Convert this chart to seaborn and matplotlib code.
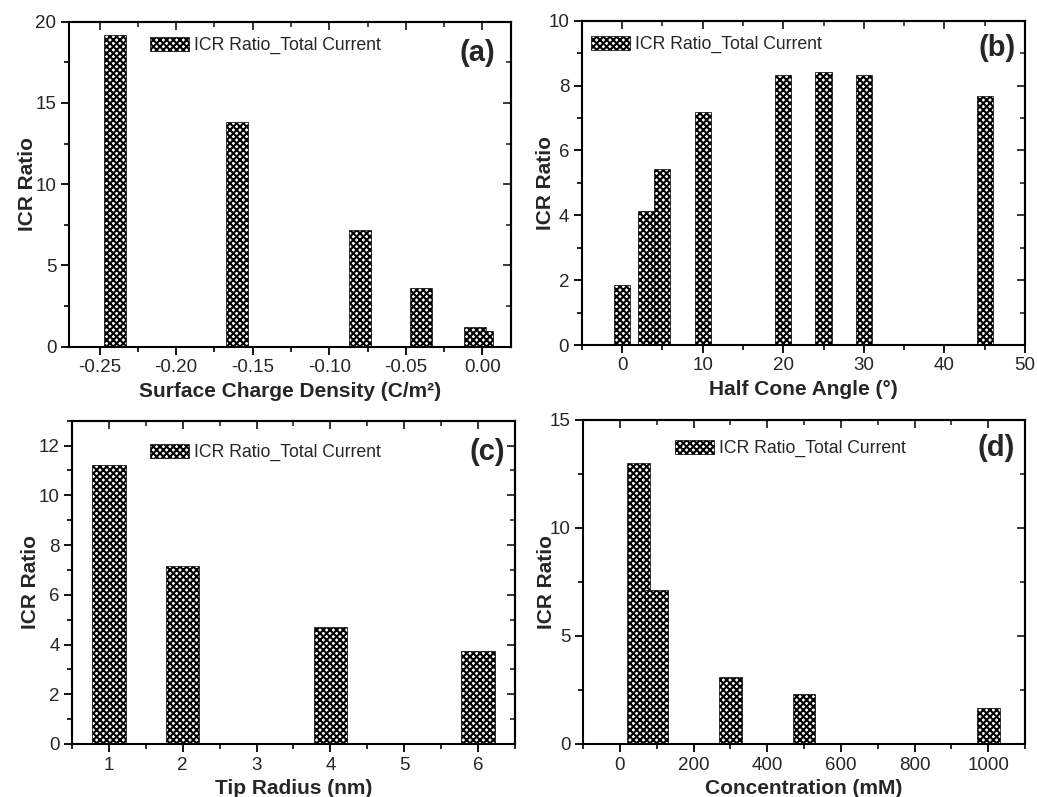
import matplotlib
matplotlib.use("Agg")
import matplotlib.pyplot as plt
import seaborn as sns
import pandas as pd
from matplotlib.ticker import MultipleLocator, FormatStrFormatter
from matplotlib.patches import Patch

# ---- data ----
charge = [-0.24, -0.16, -0.08, -0.04, -0.005, 0.0]
charge_icr = [19.2, 13.8, 7.2, 3.6, 1.2, 0.95]
angle = [0, 3, 5, 10, 20, 25, 30, 45]
angle_icr = [1.85, 4.14, 5.43, 7.19, 8.33, 8.43, 8.33, 7.68]
radius = [1, 2, 4, 6]
radius_icr = [11.2, 7.15, 4.7, 3.75]
conc = [50, 100, 300, 500, 1000]
conc_icr = [13.0, 7.13, 3.1, 2.31, 1.67]

legend_label = "ICR Ratio_Total Current"
panel_tags = ["(a)", "(b)", "(c)", "(d)"]
xlabels = ["Surface Charge Density (C/m\u00b2)", "Half Cone Angle (\u00b0)",
           "Tip Radius (nm)", "Concentration (mM)"]

sns.set_style("ticks")
plt.rcParams['font.family'] = ['Liberation Sans', 'DejaVu Sans']
plt.rcParams['hatch.linewidth'] = 1.5
HATCH = "xxxxx"

W, H = 1037, 797
fig = plt.figure(figsize=(W / 100, H / 100), dpi=100)

def px_axes(l, t, r, b):
    return fig.add_axes([l / W, 1 - b / H, (r - l) / W, (b - t) / H])

panels = [
    dict(x=charge, y=charge_icr, box=(69, 21.7, 511, 346.7), xlim=(-0.27, 0.0187),
         ylim=(0, 20), xmaj=0.05, xmin=0.025, ymaj=5, ymin=2.5, fmt="%.2f",
         barw=0.0144, leg=(0.183, 0.953), tag=(0.923, 0.905), ylab=-0.072),
    dict(x=angle, y=angle_icr, box=(581.7, 20.7, 1025, 345), xlim=(-5, 50),
         ylim=(0, 10), xmaj=10, xmin=5, ymaj=2, ymin=1, fmt="%d",
         barw=2.0, leg=(0.021, 0.953), tag=(0.937, 0.917), ylab=-0.060),
    dict(x=radius, y=radius_icr, box=(72, 420.7, 515, 744), xlim=(0.5, 6.5),
         ylim=(0, 13), xmaj=1, xmin=0.5, ymaj=2, ymin=1, fmt="%d",
         barw=0.45, leg=(0.176, 0.928), tag=(0.937, 0.903), ylab=-0.072),
    dict(x=conc, y=conc_icr, box=(583, 420, 1025, 744), xlim=(-100, 1100),
         ylim=(0, 15), xmaj=200, xmin=100, ymaj=5, ymin=2.5, fmt="%d",
         barw=62, leg=(0.208, 0.938), tag=(0.935, 0.913), ylab=-0.061),
]

for i, p in enumerate(panels):
    ax = px_axes(*p["box"])
    df = pd.DataFrame({"x": p["x"], "y": p["y"]})
    xs = sorted(set(p["x"]))
    native = min(b - a for a, b in zip(xs[:-1], xs[1:]))
    sns.barplot(data=df, x="x", y="y", native_scale=True, ax=ax,
                width=p["barw"] / native, color="white", saturation=1,
                errorbar=None, edgecolor="black", linewidth=0.5, hatch=HATCH)
    ax.set_xlim(*p["xlim"])
    ax.set_ylim(*p["ylim"])
    for s in ax.spines.values():
        s.set_visible(True)
        s.set_linewidth(1.5)
        s.set_color("black")
    ax.xaxis.set_major_locator(MultipleLocator(p["xmaj"]))
    ax.xaxis.set_minor_locator(MultipleLocator(p["xmin"]))
    ax.yaxis.set_major_locator(MultipleLocator(p["ymaj"]))
    ax.yaxis.set_minor_locator(MultipleLocator(p["ymin"]))
    ax.xaxis.set_major_formatter(FormatStrFormatter(p["fmt"]))
    ax.yaxis.set_major_formatter(FormatStrFormatter("%d"))
    ax.tick_params(which="major", direction="out", length=6, width=1.3,
                   labelsize=13.5, color="black", pad=3)
    ax.tick_params(which="minor", direction="out", length=3.5, width=1.2,
                   color="black")
    # mirrored inward ticks on top and right
    sx = ax.secondary_xaxis("top")
    sx.xaxis.set_major_locator(MultipleLocator(p["xmaj"]))
    sx.xaxis.set_minor_locator(MultipleLocator(p["xmin"]))
    sx.tick_params(which="major", direction="in", length=6, width=1.3, labeltop=False)
    sx.tick_params(which="minor", direction="in", length=3.5, width=1.2)
    sx.spines["top"].set_linewidth(1.5)
    sy = ax.secondary_yaxis("right")
    sy.yaxis.set_major_locator(MultipleLocator(p["ymaj"]))
    sy.yaxis.set_minor_locator(MultipleLocator(p["ymin"]))
    sy.tick_params(which="major", direction="in", length=6, width=1.3, labelright=False)
    sy.tick_params(which="minor", direction="in", length=3.5, width=1.2)
    sy.spines["right"].set_linewidth(1.5)

    ax.set_xlabel(xlabels[i], fontsize=15, fontweight="bold", labelpad=4)
    ax.set_ylabel("ICR Ratio", fontsize=15, fontweight="bold")
    ax.yaxis.set_label_coords(p["ylab"], 0.5)

    handle = Patch(facecolor="white", edgecolor="black", hatch=HATCH, linewidth=0.5)
    ax.legend([handle], [legend_label], loc="upper left", bbox_to_anchor=p["leg"],
              frameon=False, fontsize=12.7, handlelength=2.2, handleheight=0.8,
              handletextpad=0.3, borderpad=0, borderaxespad=0)
    ax.text(p["tag"][0], p["tag"][1], panel_tags[i], transform=ax.transAxes,
            ha="center", va="center", fontsize=21, fontweight="bold")

fig.savefig("out.png", dpi=100)
